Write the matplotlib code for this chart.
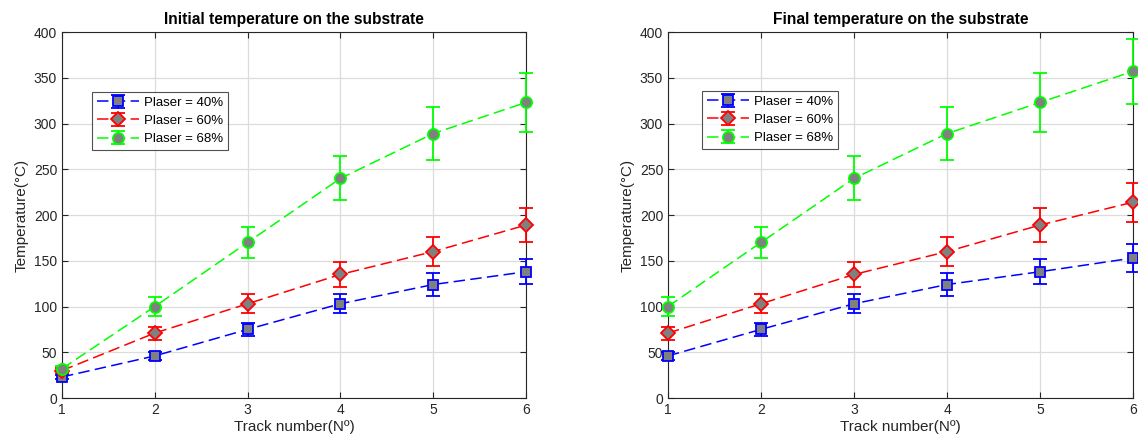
import matplotlib
matplotlib.use("Agg")
import matplotlib.pyplot as plt

plt.rcParams['font.family'] = ['Liberation Sans', 'DejaVu Sans']

tracks = [1, 2, 3, 4, 5, 6]
labels = ["Plaser = 40%", "Plaser = 60%", "Plaser = 68%"]

init_40 = [23, 46, 75, 103, 124, 138]
init_40_err = [2.3, 4.6, 7.5, 10.3, 12.4, 13.8]
init_60 = [30, 71, 103, 135, 160, 189]
init_60_err = [3, 7.1, 10.3, 13.5, 16, 18.9]
init_68 = [32, 100, 170, 240, 289, 323]
init_68_err = [3.2, 10, 17, 24, 28.9, 32.3]

final_40 = [46, 75, 103, 124, 138, 153]
final_40_err = [4.6, 7.5, 10.3, 12.4, 13.8, 15.3]
final_60 = [71, 103, 135, 160, 189, 214]
final_60_err = [7.1, 10.3, 13.5, 16, 18.9, 21.4]
final_68 = [100, 170, 240, 289, 323, 357]
final_68_err = [10, 17, 24, 28.9, 32.3, 35.7]

titles = ["Initial temperature on the substrate", "Final temperature on the substrate"]
yticks = [0, 50, 100, 150, 200, 250, 300, 350, 400]

colors = ['#0000ff', '#ff0000', '#00ff00']
markers = ['s', 'D', 'o']
msizes = [7, 7, 8]

W, H = 1138, 442
fig = plt.figure(figsize=(W / 100, H / 100), dpi=100)
axes_px = [(62, 32, 526, 398), (668, 32, 1133, 398)]
legend_px = [(92, 92), (702, 91)]
data_sets = [
    [(init_40, init_40_err), (init_60, init_60_err), (init_68, init_68_err)],
    [(final_40, final_40_err), (final_60, final_60_err), (final_68, final_68_err)],
]

axcol = '#262626'
for k in range(2):
    x0, y0, x1, y1 = axes_px[k]
    ax = fig.add_axes([x0 / W, 1 - y1 / H, (x1 - x0) / W, (y1 - y0) / H])
    for i, (vals, errs) in enumerate(data_sets[k]):
        cont = ax.errorbar(tracks, vals, yerr=errs, color=colors[i], ls=(0, (7.5, 3.5)), lw=1.1,
                           marker=markers[i], ms=msizes[i], mfc='#808080', mec=colors[i], mew=1.3,
                           ecolor=colors[i], elinewidth=1.3, capsize=5, capthick=1.3,
                           label=labels[i], zorder=3)
        for art in cont.get_children():
            art.set_clip_on(False)
    ax.set_xlim(1, 6)
    ax.set_ylim(0, 400)
    ax.set_xticks(tracks)
    ax.set_yticks(yticks)
    ax.grid(True, color='#dcdcdc', lw=0.9)
    ax.set_axisbelow(True)
    ax.tick_params(direction='in', top=True, right=True, labelsize=10, colors=axcol,
                   length=4, width=0.8)
    for s in ax.spines.values():
        s.set_color(axcol)
        s.set_linewidth(0.8)
    ax.set_title(titles[k], fontsize=11.2, fontweight='bold', color='black', pad=6)
    ax.set_xlabel("Track number(Nº)", fontsize=11, color=axcol, labelpad=2)
    ax.set_ylabel("Temperature(°C)", fontsize=11, color=axcol, labelpad=4)
    lx, ly = legend_px[k]
    leg = ax.legend(loc='upper left', bbox_to_anchor=((lx - x0) / (x1 - x0), 1 - (ly - y0) / (y1 - y0)),
                    fontsize=9.5, frameon=True, fancybox=False, edgecolor=axcol,
                    borderaxespad=0, handlelength=3.2, labelspacing=0.45, borderpad=0.35,
                    handletextpad=0.4)
    leg.get_frame().set_linewidth(0.8)
    leg.set_zorder(5)

fig.savefig("out.png", dpi=100)
